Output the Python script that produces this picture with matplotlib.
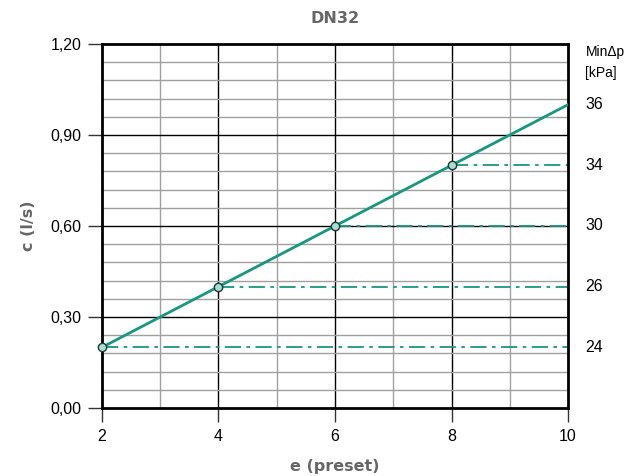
import matplotlib
matplotlib.use('Agg')
from matplotlib import pyplot as plt
import numpy as np

preset = [2, 4, 6, 8, 10]
flow = [0.20, 0.40, 0.60, 0.80, 1.00]
dp_labels = ['24', '26', '30', '34', '36']
marker_x = [2, 4, 6, 8]
marker_y = [0.20, 0.40, 0.60, 0.80]

teal = '#17977f'
grey_txt = '#666666'

plt.rcParams['font.family'] = ['Liberation Sans', 'DejaVu Sans']

fig = plt.figure(figsize=(6.30, 4.76), dpi=100)
ax = fig.add_axes([0.1619, 0.1429, 0.7397, 0.7647])

ax.set_xlim(2, 10)
ax.set_ylim(0, 1.2)

# grid
for x in range(3, 10):
    c = 'black' if x in (4, 6, 8) else '#a0a0a0'
    ax.axvline(x, color=c, lw=1.0, zorder=1)
for y in np.arange(0.06, 1.2, 0.06):
    major = abs(y - 0.3) < 1e-6 or abs(y - 0.6) < 1e-6 or abs(y - 0.9) < 1e-6
    ax.axhline(y, color='black' if major else '#a0a0a0', lw=1.0, zorder=1)

ax.plot(preset, flow, color=teal, lw=2, zorder=3)
for x, y in zip(marker_x, marker_y):
    ax.plot([x, 10], [y, y], color=teal, lw=1.3, ls=(0, (9, 3, 2, 3)), zorder=2)
ax.plot(marker_x, marker_y, 'o', ms=6, mfc='#a9dcd2', mec='#1a3a33', mew=1, zorder=4, clip_on=False)

for s in ax.spines.values():
    s.set_linewidth(2)
    s.set_color('black')

ax.set_xticks([2, 4, 6, 8, 10])
ax.set_xticklabels(['2', '4', '6', '8', '10'])
ax.set_yticks([0, 0.3, 0.6, 0.9, 1.2])
ax.set_yticklabels(['0,00', '0,30', '0,60', '0,90', '1,20'])
ax.tick_params(direction='out', length=10, width=1, labelsize=11.5, pad=5, color='#333333')

for y, lab in zip(flow, dp_labels):
    ax.text(10.3, y, lab, fontsize=11.5, va='center', ha='left')
ax.text(10.3, 1.175, 'MinΔp', fontsize=10, va='center', ha='left')
ax.text(10.3, 1.105, '[kPa]', fontsize=10, va='center', ha='left')

ax.set_title('DN32', fontsize=11.5, fontweight='bold', color=grey_txt, family='DejaVu Sans', pad=15)
ax.set_xlabel('e (preset)', fontsize=11.5, fontweight='bold', color=grey_txt, family='DejaVu Sans', labelpad=11)
ax.set_ylabel('c (l/s)', fontsize=11.5, fontweight='bold', color=grey_txt, family='DejaVu Sans', labelpad=10)

plt.savefig('out.png', dpi=100)
